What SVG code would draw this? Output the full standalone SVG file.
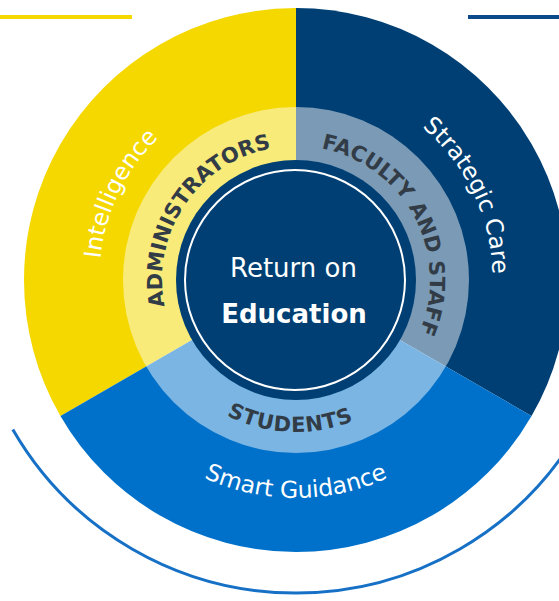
<svg xmlns="http://www.w3.org/2000/svg" width="559" height="601" viewBox="0 0 559 601">
  <style>
    .seg-label { font-family: "DejaVu Sans", Verdana, sans-serif; font-size: 23.5px; fill: #ffffff; }
    .ring-label { font-family: "DejaVu Sans", Verdana, sans-serif; font-size: 21px; font-weight: bold; fill: #323c47; }
    .center-text { font-family: "DejaVu Sans", Verdana, sans-serif; fill: #ffffff; text-anchor: middle; }
  </style>
  <defs>
    <path id="p-intel" d="M105.8,327.4 A196,196 0 0 1 215.6,99"/>
    <path id="p-strat" d="M376.4,99 A196,196 0 0 1 486.2,327.4"/>
    <path id="p-smart" d="M129,420.1 A218,218 0 0 0 463,420.1"/>
    <path id="p-admin" d="M175.6,338.7 A134,134 0 0 1 305.3,146.3"/>
    <path id="p-fac" d="M300.7,146.1 A134,134 0 0 1 409.6,351"/>
    <path id="p-stud" d="M193.7,392.4 A152,152 0 0 0 388.9,400.3"/>
  </defs>

  <g id="decor">
    <rect x="0" y="15" width="132" height="4" fill="#F4D800"/>
    <rect x="468" y="15" width="91" height="4" fill="#0B4A8A"/>
    <path d="M12.8,429.5 A327,327 0 0 0 579.2,429.5" fill="none" stroke="#1670C6" stroke-width="3"/>
  </g>

  <g id="segment-intelligence">
    <path d="M296,280 L296,8 A272,272 0 0 0 60.44,416 Z" fill="#F4D800"/>
  </g>
  <g id="segment-strategic-care">
    <path d="M296,280 L296,8 A272,272 0 0 1 531.56,416 Z" fill="#003F73"/>
  </g>
  <g id="segment-smart-guidance">
    <path d="M296,280 L531.56,416 A272,272 0 0 1 60.44,416 Z" fill="#0071CA"/>
  </g>

  <g id="ring">
    <circle cx="296" cy="280" r="173" fill="#ffffff" fill-opacity="0.48"/>
  </g>

  <g id="center">
    <circle cx="296" cy="280" r="120" fill="#003F73"/>
    <circle cx="295" cy="280" r="110" fill="none" stroke="#ffffff" stroke-width="2"/>
    <text class="center-text" x="293.5" y="277" font-size="26">Return on</text>
    <text class="center-text" x="294" y="323" font-size="26" font-weight="bold">Education</text>
  </g>

  <g id="label-intelligence">
    <text class="seg-label"><textPath href="#p-intel" startOffset="50%" text-anchor="middle">Intelligence</textPath></text>
  </g>
  <g id="label-strategic-care">
    <text class="seg-label"><textPath href="#p-strat" startOffset="50%" text-anchor="middle">Strategic Care</textPath></text>
  </g>
  <g id="label-smart-guidance">
    <text class="seg-label"><textPath href="#p-smart" startOffset="50%" text-anchor="middle">Smart Guidance</textPath></text>
  </g>
  <g id="label-administrators">
    <text class="ring-label"><textPath href="#p-admin" startOffset="50%" text-anchor="middle">ADMINISTRATORS</textPath></text>
  </g>
  <g id="label-faculty">
    <text class="ring-label"><textPath href="#p-fac" startOffset="50%" text-anchor="middle">FACULTY AND STAFF</textPath></text>
  </g>
  <g id="label-students">
    <text class="ring-label" letter-spacing="0.8"><textPath href="#p-stud" startOffset="50%" text-anchor="middle">STUDENTS</textPath></text>
  </g>
</svg>
